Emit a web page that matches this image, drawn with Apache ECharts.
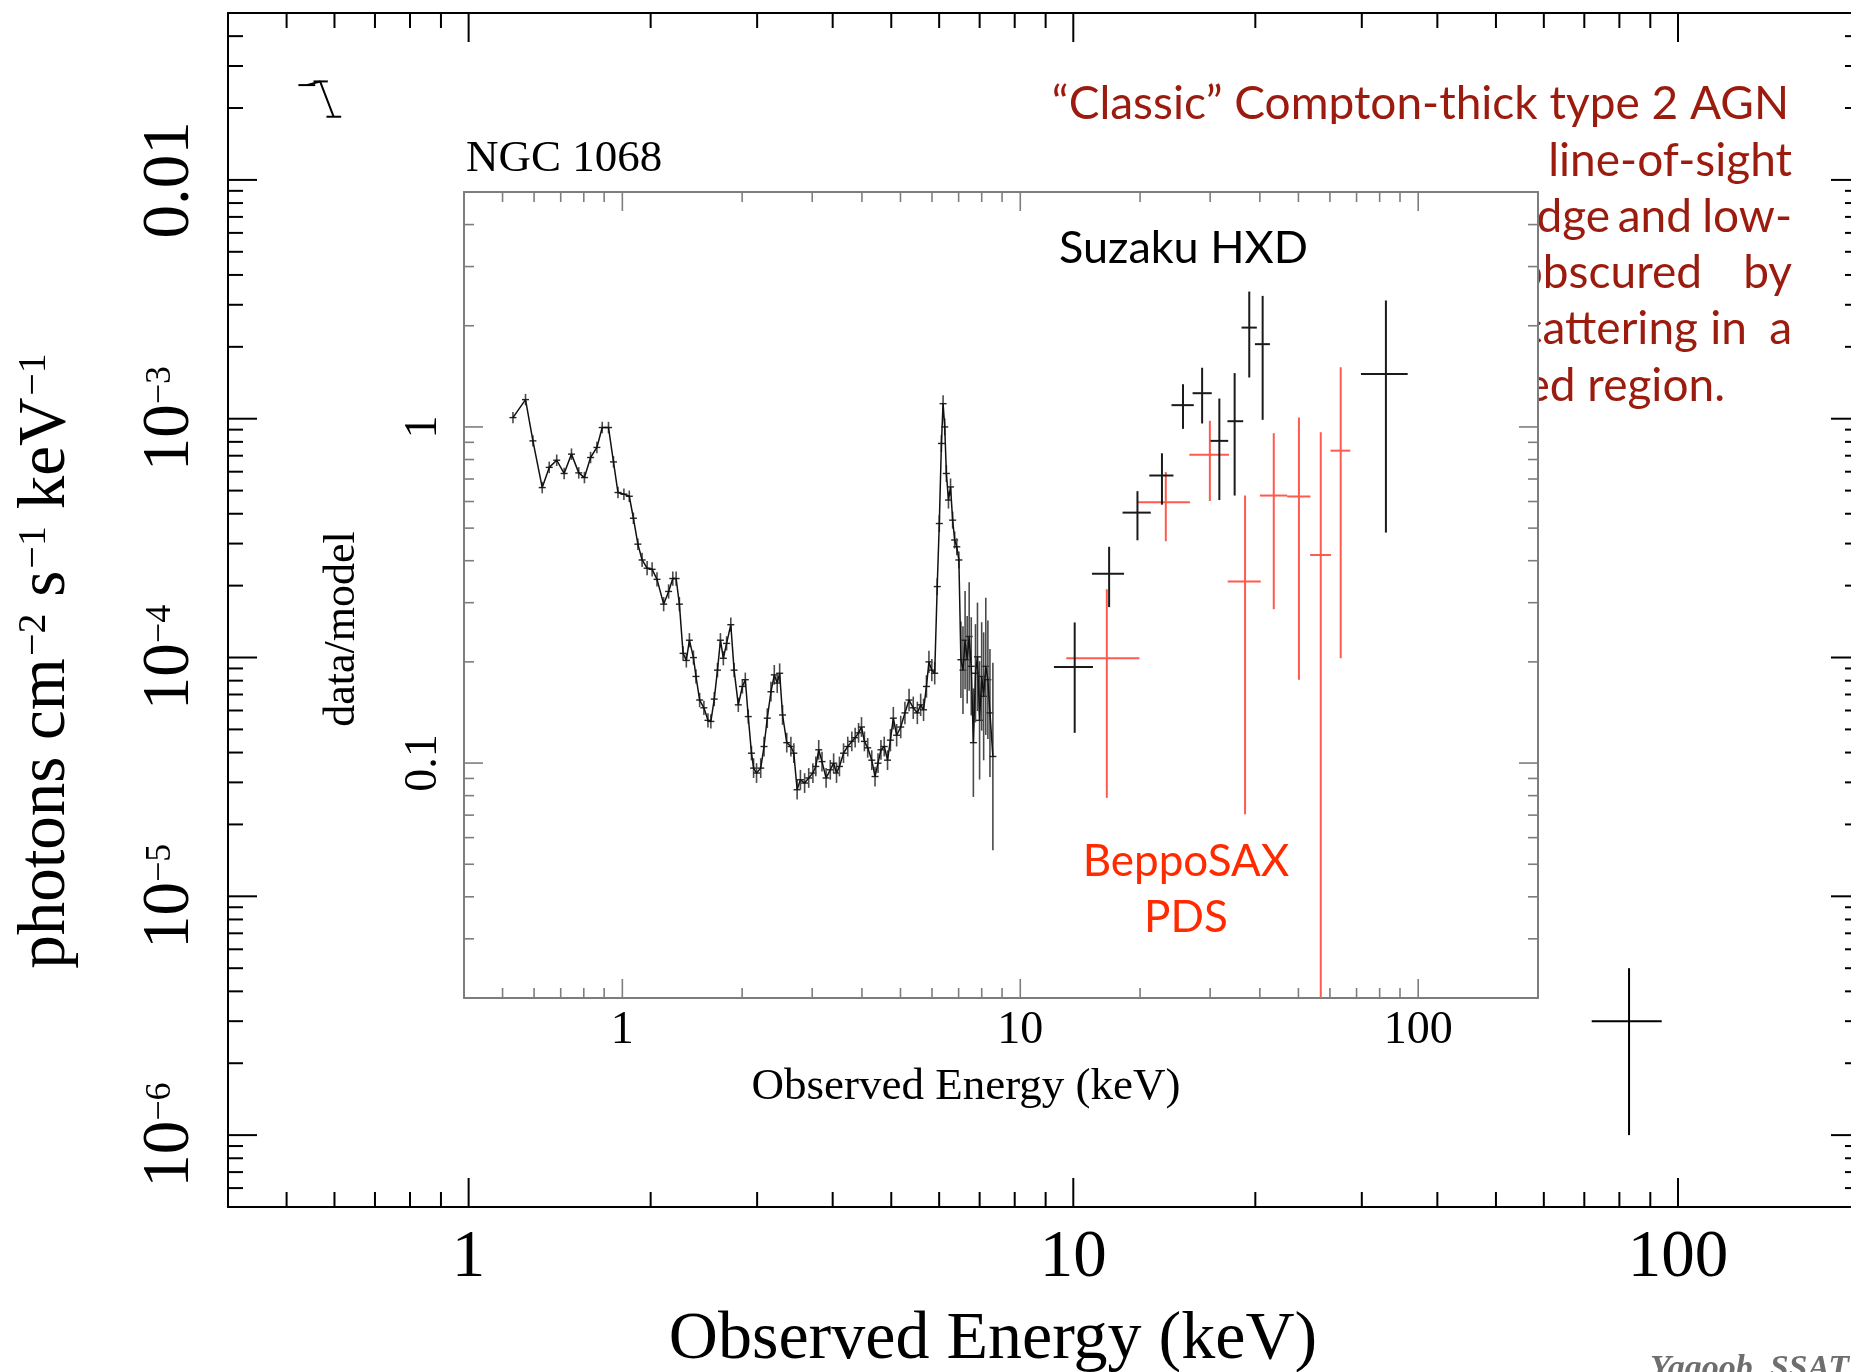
<!DOCTYPE html>
<html><head><meta charset="utf-8">
<script src="https://cdn.jsdelivr.net/npm/echarts@6/dist/echarts.min.js"></script>
<style>html,body{margin:0;padding:0;background:#fff}#c{width:1851px;height:1372px}</style>
</head><body><div id="c"></div>
<script>
// ---------- Outer chart (photons cm^-2 s^-1 keV^-1 vs energy) ----------
const outerXRange = [0.4, 200];
const outerYRange = [5e-7, 0.05];
const outerXTicks = [1, 10, 100];
const outerXTickLabels = ['1', '10', '100'];
const outerYTicks = [1e-6, 1e-5, 1e-4, 1e-3, 1e-2];
const outerYTickLabels = ['{b|10}{s|−6}', '{b|10}{s|−5}', '{b|10}{s|−4}', '{b|10}{s|−3}', '{b|0.01}'];
// visible low-energy piece (top-left)
const outerLowE = [0.540, 0.568, 0.598];
const outerLowELo = [0.523, 0.554, 0.582];
const outerLowEHi = [0.5575, 0.585, 0.6155];
const outerLowF = [0.02495, 0.02585, 0.01839];
// visible high-energy point (bottom-right)
const outerHighE = [83];
const outerHighELo = [72];
const outerHighEHi = [94];
const outerHighF = [3e-6];
const outerHighFLo = [1e-6];
const outerHighFHi = [5e-6];

// ---------- Inset (data/model) ----------
const insetXRange = [0.4, 200];
const insetYRange = [0.02, 5];
const insetXTicks = [1, 10, 100];
const insetXTickLabels = ['1', '10', '100'];
const insetYTicks = [0.1, 1];
const insetYTickLabels = ['0.1', '1'];

const specE = [0.531,0.571,0.596,0.629,0.655,0.684,0.714,0.745,0.777,0.803,
0.832,0.863,0.890,0.923,0.950,0.975,1.009,1.041,1.066,1.094,
1.121,1.154,1.188,1.222,1.270,1.307,1.339,1.365,1.391,1.421,
1.448,1.474,1.509,1.531,1.564,1.603,1.641,1.669,1.702,1.734,
1.764,1.794,1.828,1.873,1.909,1.956,2.003,2.037,2.072,2.111,
2.137,2.174,2.227,2.270,2.313,2.363,2.409,2.450,2.485,2.527,
2.589,2.652,2.697,2.749,2.802,2.871,2.940,3.012,3.063,3.115,
3.175,3.251,3.331,3.396,3.453,3.512,3.596,3.685,3.773,3.846,
3.923,3.990,4.058,4.136,4.234,4.315,4.390,4.465,4.551,4.639,
4.717,4.797,4.890,5.007,5.130,5.254,5.383,5.512,5.619,5.714,
5.810,5.894,5.994,6.095,6.184,6.259,6.336,6.397,6.459,6.520,
6.600,6.680,6.761,6.841,6.925,7.010,7.092,7.178,7.266,7.355,
7.440,7.530,7.623,7.717,7.806,7.902,7.998,8.090,8.190,8.290,
8.390,8.534];
const specR = [1.066,1.206,0.909,0.660,0.758,0.796,0.727,0.830,0.730,0.707,
0.811,0.869,0.996,0.996,0.787,0.638,0.631,0.622,0.535,0.448,
0.402,0.380,0.377,0.352,0.297,0.324,0.354,0.354,0.297,0.212,
0.202,0.232,0.206,0.181,0.154,0.146,0.134,0.133,0.155,0.189,
0.232,0.205,0.227,0.258,0.189,0.149,0.169,0.177,0.1375,0.107,
0.0966,0.0934,0.0966,0.112,0.136,0.163,0.183,0.173,0.185,0.139,
0.115,0.112,0.107,0.0833,0.0892,0.0872,0.0903,0.0934,0.0977,0.1095,
0.101,0.0903,0.0955,0.0999,0.0934,0.0977,0.107,0.112,0.116,0.119,
0.123,0.128,0.116,0.111,0.102,0.0912,0.0999,0.1095,0.112,0.102,
0.117,0.136,0.121,0.128,0.141,0.154,0.146,0.141,0.149,0.144,
0.169,0.200,0.189,0.185,0.335,0.516,0.893,1.173,1.000,0.727,
0.606,0.663,0.528,0.461,0.440,0.402,0.203,0.189,0.232,0.203,
0.238,0.194,0.115,0.185,0.207,0.134,0.181,0.158,0.194,0.177,
0.141,0.1046];
// multiplicative error factor per point (lo = R/f, hi = R*f)
const specErrF = [1.04,1.04,1.04,1.04,1.04,1.04,1.04,1.04,1.04,1.04,
1.04,1.04,1.04,1.04,1.04,1.04,1.04,1.04,1.04,1.04,
1.05,1.05,1.05,1.05,1.05,1.05,1.05,1.05,1.05,1.05,
1.05,1.05,1.05,1.05,1.05,1.05,1.05,1.05,1.05,1.05,
1.05,1.05,1.05,1.05,1.05,1.05,1.05,1.05,1.05,1.05,
1.07,1.07,1.07,1.07,1.07,1.07,1.07,1.07,1.07,1.07,
1.07,1.07,1.07,1.07,1.07,1.07,1.07,1.07,1.07,1.07,
1.07,1.07,1.07,1.07,1.07,1.07,1.07,1.07,1.07,1.07,
1.07,1.07,1.07,1.07,1.07,1.07,1.07,1.07,1.07,1.07,
1.08,1.08,1.08,1.08,1.08,1.08,1.08,1.08,1.08,1.08,
1.08,1.08,1.08,1.08,1.06,1.06,1.06,1.06,1.06,1.06,
1.06,1.06,1.06,1.06,1.06,1.06,1.30,1.35,1.40,1.35,
1.45,1.40,1.45,1.40,1.45,1.50,1.45,1.55,1.60,1.50,
1.55,1.90];

// Suzaku HXD points
const hxdE   = [13.70,16.72,19.70,22.70,25.64,28.64,31.64,34.57,37.62,40.65,82.95];
const hxdELo = [12.15,15.14,18.07,21.10,23.99,27.10,30.07,33.16,35.98,38.88,71.8];
const hxdEHi = [15.23,18.23,21.28,24.26,27.29,30.28,33.30,36.32,39.31,42.39,94.1];
const hxdR   = [0.193,0.366,0.556,0.717,1.161,1.26,0.909,1.04,1.975,1.763,1.437];
const hxdRLo = [0.123,0.291,0.460,0.587,0.987,1.024,0.606,0.625,1.403,1.05,0.485];
const hxdRHi = [0.262,0.440,0.644,0.835,1.340,1.50,1.215,1.446,2.528,2.454,2.378];

// BeppoSAX PDS points
const pdsE   = [16.50,23.21,29.95,36.72,43.35,50.15,56.9,63.86];
const pdsELo = [13.05,19.66,26.6,33.2,40.0,46.85,53.5,60.2];
const pdsEHi = [19.92,26.69,33.45,40.2,46.85,53.6,60.4,67.5];
const pdsR   = [0.205,0.597,0.827,0.347,0.625,0.621,0.416,0.850];
const pdsRLo = [0.0788,0.457,0.602,0.0704,0.287,0.177,0.005,0.205];
const pdsRHi = [0.329,0.734,1.043,0.625,0.958,1.066,0.964,1.504];

// ---------- helpers ----------
const MANT = [2,3,4,5,6,7,8,9];
function decadeTicks(range) {
  const maj = [], mnr = [];
  const lo = range[0] * 1.0001, hi = range[1] * 0.9999;
  for (let e = Math.floor(Math.log10(range[0])); e <= Math.ceil(Math.log10(range[1])); e++) {
    const b = Math.pow(10, e);
    if (b > lo && b < hi) maj.push(b);
    MANT.forEach(m => { const v = m * b; if (v > lo && v < hi) mnr.push(v); });
  }
  return [maj, mnr];
}
function tickData(xr, yr) {
  const [xm, xn] = decadeTicks(xr), [ym, yn] = decadeTicks(yr);
  const d = [];
  xm.forEach(v => d.push([v, yr[0], 0, 1]));
  xn.forEach(v => d.push([v, yr[0], 0, 0]));
  ym.forEach(v => d.push([xr[0], v, 1, 1]));
  yn.forEach(v => d.push([xr[0], v, 1, 0]));
  return d;
}
function tickSeries(xi, yi, xr, yr, lMaj, lMin, color, width, z) {
  return {
    type: 'custom', xAxisIndex: xi, yAxisIndex: yi, z: z, silent: true, clip: false,
    encode: { x: 0, y: 1 },
    data: tickData(xr, yr),
    renderItem: function (params, api) {
      const L = api.value(3) ? lMaj : lMin;
      const style = { stroke: color, lineWidth: width };
      if (api.value(2) === 0) {
        const pb = api.coord([api.value(0), yr[0]]);
        const pt = api.coord([api.value(0), yr[1]]);
        return { type: 'group', children: [
          { type: 'line', shape: { x1: pb[0], y1: pb[1], x2: pb[0], y2: pb[1] - L }, style: style },
          { type: 'line', shape: { x1: pt[0], y1: pt[1], x2: pt[0], y2: pt[1] + L }, style: style }
        ]};
      } else {
        const pl = api.coord([xr[0], api.value(1)]);
        const pr = api.coord([xr[1], api.value(1)]);
        return { type: 'group', children: [
          { type: 'line', shape: { x1: pl[0], y1: pl[1], x2: pl[0] + L, y2: pl[1] }, style: style },
          { type: 'line', shape: { x1: pr[0], y1: pr[1], x2: pr[0] - L, y2: pr[1] }, style: style }
        ]};
      }
    }
  };
}
function crossSeries(xi, yi, data, color, width, z, clip) {
  return {
    type: 'custom', xAxisIndex: xi, yAxisIndex: yi, z: z, silent: true, clip: clip,
    encode: { x: 0, y: 1 },
    data: data,
    renderItem: function (params, api) {
      const c = api.coord([api.value(0), api.value(1)]);
      const l = api.coord([api.value(2), api.value(1)]);
      const r = api.coord([api.value(3), api.value(1)]);
      const b = api.coord([api.value(0), api.value(4)]);
      const t = api.coord([api.value(0), api.value(5)]);
      const style = { stroke: color, lineWidth: width };
      return { type: 'group', children: [
        { type: 'line', shape: { x1: l[0], y1: c[1], x2: r[0], y2: c[1] }, style: style },
        { type: 'line', shape: { x1: c[0], y1: b[1], x2: c[0], y2: t[1] }, style: style }
      ]};
    }
  };
}
function labelFor(ticks, labels) {
  return function (v) {
    for (let i = 0; i < ticks.length; i++) {
      if (Math.abs(Math.log10(v) - Math.log10(ticks[i])) < 1e-6) return labels[i];
    }
    return '';
  };
}
const SERIF = 'Liberation Serif';
function logAxis(gridIndex, range, position, z, color, width, label) {
  const ax = {
    type: 'log', logBase: 10, gridIndex: gridIndex, min: range[0], max: range[1],
    position: position, z: z,
    axisLine: { show: true, onZero: false, lineStyle: { color: color, width: width } },
    axisTick: { show: false }, splitLine: { show: false }, minorTick: { show: false },
    axisLabel: { show: false }
  };
  if (label) ax.axisLabel = label;
  return ax;
}

const chart = echarts.init(document.getElementById('c'));

const outerGrid = { left: 228, top: 13, width: 1632, height: 1194 };
const insetGrid = { left: 464, top: 192, width: 1074, height: 806 };

const descColor = '#9b1b0e';
const descFont = 46;
function descWord(text, right, baseline) {
  return { type: 'text', z: 1, x: right, y: baseline - 0.387 * descFont, silent: true,
    style: { text: text, fontFamily: 'Lato', fontSize: descFont, fill: descColor, align: 'right', verticalAlign: 'middle' } };
}

const option = {
  animation: false,
  backgroundColor: '#fff',
  grid: [
    Object.assign({ show: false, z: 0, containLabel: false, outerBoundsMode: 'none' }, outerGrid),
    Object.assign({ show: false, z: 3, containLabel: false, outerBoundsMode: 'none' }, insetGrid)
  ],
  xAxis: [
    logAxis(0, outerXRange, 'bottom', 0, '#000', 2, {
      show: true, interval: 0, margin: 18, fontSize: 67, fontFamily: SERIF, color: '#000',
      formatter: labelFor(outerXTicks, outerXTickLabels)
    }),
    logAxis(0, outerXRange, 'top', 0, '#000', 2, null),
    logAxis(1, insetXRange, 'bottom', 3, '#7d7d7d', 2, {
      show: true, interval: 0, margin: 10, fontSize: 46, fontFamily: SERIF, color: '#000',
      formatter: labelFor(insetXTicks, insetXTickLabels)
    }),
    logAxis(1, insetXRange, 'top', 3, '#7d7d7d', 2, null)
  ],
  yAxis: [
    logAxis(0, outerYRange, 'left', 0, '#000', 2, {
      show: true, interval: 0, margin: 24, rotate: 90, fontSize: 67, fontFamily: SERIF, color: '#000',
      formatter: labelFor(outerYTicks, outerYTickLabels),
      rich: {
        b: { fontSize: 67, fontFamily: SERIF, color: '#000' },
        s: { fontSize: 36, fontFamily: SERIF, color: '#000', verticalAlign: 'top', padding: [6, 0, 0, 0] }
      }
    }),
    logAxis(0, outerYRange, 'right', 0, '#000', 2, null),
    logAxis(1, insetYRange, 'left', 3, '#7d7d7d', 2, {
      show: true, interval: 0, margin: 17, rotate: 90, fontSize: 46, fontFamily: SERIF, color: '#000',
      formatter: labelFor(insetYTicks, insetYTickLabels)
    }),
    logAxis(1, insetYRange, 'right', 3, '#7d7d7d', 2, null)
  ],
  graphic: [
    // description paragraph (partly hidden behind the inset)
    descWord('“Classic” Compton-thick type 2 AGN', 1789, 122),
    descWord('line-of-sight', 1792, 179),
    descWord('edge', 1610, 235),
    descWord('and', 1692, 235),
    descWord('low-', 1792, 235),
    descWord('obscured', 1702, 291),
    descWord('by', 1792, 291),
    descWord('scattering', 1698, 347),
    descWord('in', 1747, 347),
    descWord('a', 1792, 347),
    descWord('ionized region.', 1725, 404),
    // white backing of the inset
    { type: 'rect', z: 2, silent: true, shape: { x: 270, y: 124, width: 1268, height: 991 }, style: { fill: '#fff' } },
    // inset texts
    { type: 'text', z: 5, x: 466, y: 174 - 0.3375 * 45, silent: true,
      style: { text: 'NGC 1068', fontFamily: SERIF, fontSize: 45, fill: '#000', align: 'left', verticalAlign: 'middle' } },
    { type: 'text', z: 5, x: 342, y: 629, rotation: Math.PI / 2, silent: true,
      style: { text: 'data/model', fontFamily: SERIF, fontSize: 44, fill: '#000', align: 'center', verticalAlign: 'middle' } },
    { type: 'text', z: 5, x: 966, y: 1087, silent: true,
      style: { text: 'Observed Energy (keV)', fontFamily: SERIF, fontSize: 45, fill: '#000', align: 'center', verticalAlign: 'middle' } },
    { type: 'text', z: 5, x: 1059, y: 266 - 0.387 * 45, silent: true,
      style: { text: 'Suzaku HXD', fontFamily: 'Lato', fontSize: 45, fill: '#000', align: 'left', verticalAlign: 'middle' } },
    { type: 'text', z: 5, x: 1186, y: 879 - 0.387 * 44, silent: true,
      style: { text: 'BeppoSAX', fontFamily: 'Lato', fontSize: 44, fill: '#ff2a00', align: 'center', verticalAlign: 'middle' } },
    { type: 'text', z: 5, x: 1186, y: 935 - 0.387 * 44, silent: true,
      style: { text: 'PDS', fontFamily: 'Lato', fontSize: 44, fill: '#ff2a00', align: 'center', verticalAlign: 'middle' } },
    // outer titles
    { type: 'text', z: 5, x: 46, y: 661, rotation: Math.PI / 2, silent: true,
      style: { text: '{b|photons cm}{s|−2}{b| s}{s|−1}{b| keV}{s|−1}', align: 'center', verticalAlign: 'middle',
        rich: {
          b: { fontFamily: SERIF, fontSize: 67, fill: '#000' },
          s: { fontFamily: SERIF, fontSize: 40, fill: '#000', verticalAlign: 'top', padding: [2, 0, 0, 2] }
        } } },
    { type: 'text', z: 5, x: 993, y: 1340, silent: true,
      style: { text: 'Observed Energy (keV)', fontFamily: SERIF, fontSize: 68, fill: '#000', align: 'center', verticalAlign: 'middle' } },
    { type: 'text', z: 5, x: 1650, y: 1369, silent: true,
      style: { text: 'Yaqoob, SSAT', fontFamily: SERIF, fontSize: 34, fontStyle: 'italic', fontWeight: 'bold', fill: '#6e6e6e', align: 'left', verticalAlign: 'middle' } }
  ],
  series: [
    tickSeries(0, 0, outerXRange, outerYRange, 29, 15, '#000', 2, 1),
    tickSeries(2, 2, insetXRange, insetYRange, 19, 10, '#7d7d7d', 1.6, 4),
    // outer visible data
    { type: 'line', xAxisIndex: 0, yAxisIndex: 0, z: 2, silent: true, showSymbol: false, symbol: 'none',
      lineStyle: { color: '#000', width: 2 },
      data: outerLowE.map((e, i) => [e, outerLowF[i]]) },
    crossSeries(0, 0, outerLowE.map((e, i) => [e, outerLowF[i], outerLowELo[i], outerLowEHi[i], outerLowF[i], outerLowF[i]]), '#000', 2, 2, false),
    crossSeries(0, 0, outerHighE.map((e, i) => [e, outerHighF[i], outerHighELo[i], outerHighEHi[i], outerHighFLo[i], outerHighFHi[i]]), '#000', 2, 2, false),
    // inset spectrum
    { type: 'custom', xAxisIndex: 2, yAxisIndex: 2, z: 4, silent: true, clip: true,
      encode: { x: 0, y: 1 },
      data: specE.map((e, i) => [e, specR[i], specR[i] / specErrF[i], specR[i] * specErrF[i]]),
      renderItem: function (params, api) {
        const p = api.coord([api.value(0), api.value(1)]);
        const lo = api.coord([api.value(0), api.value(2)]);
        const hi = api.coord([api.value(0), api.value(3)]);
        return { type: 'group', children: [
          { type: 'line', shape: { x1: p[0], y1: lo[1], x2: p[0], y2: hi[1] }, style: { stroke: '#4a4a4a', lineWidth: 1.6 } },
          { type: 'line', shape: { x1: p[0] - 3.5, y1: p[1], x2: p[0] + 3.5, y2: p[1] }, style: { stroke: '#222', lineWidth: 1.4 } }
        ]};
      } },
    { type: 'line', xAxisIndex: 2, yAxisIndex: 2, z: 4, silent: true, showSymbol: false, symbol: 'none',
      lineStyle: { color: '#111', width: 1.5 },
      data: specE.map((e, i) => [e, specR[i]]) },
    crossSeries(2, 2, pdsE.map((e, i) => [e, pdsR[i], pdsELo[i], pdsEHi[i], pdsRLo[i], pdsRHi[i]]), '#ff5a4e', 2, 4, true),
    crossSeries(2, 2, hxdE.map((e, i) => [e, hxdR[i], hxdELo[i], hxdEHi[i], hxdRLo[i], hxdRHi[i]]), '#1a1a1a', 2, 5, true)
  ]
};
chart.setOption(option);
</script></body></html>
